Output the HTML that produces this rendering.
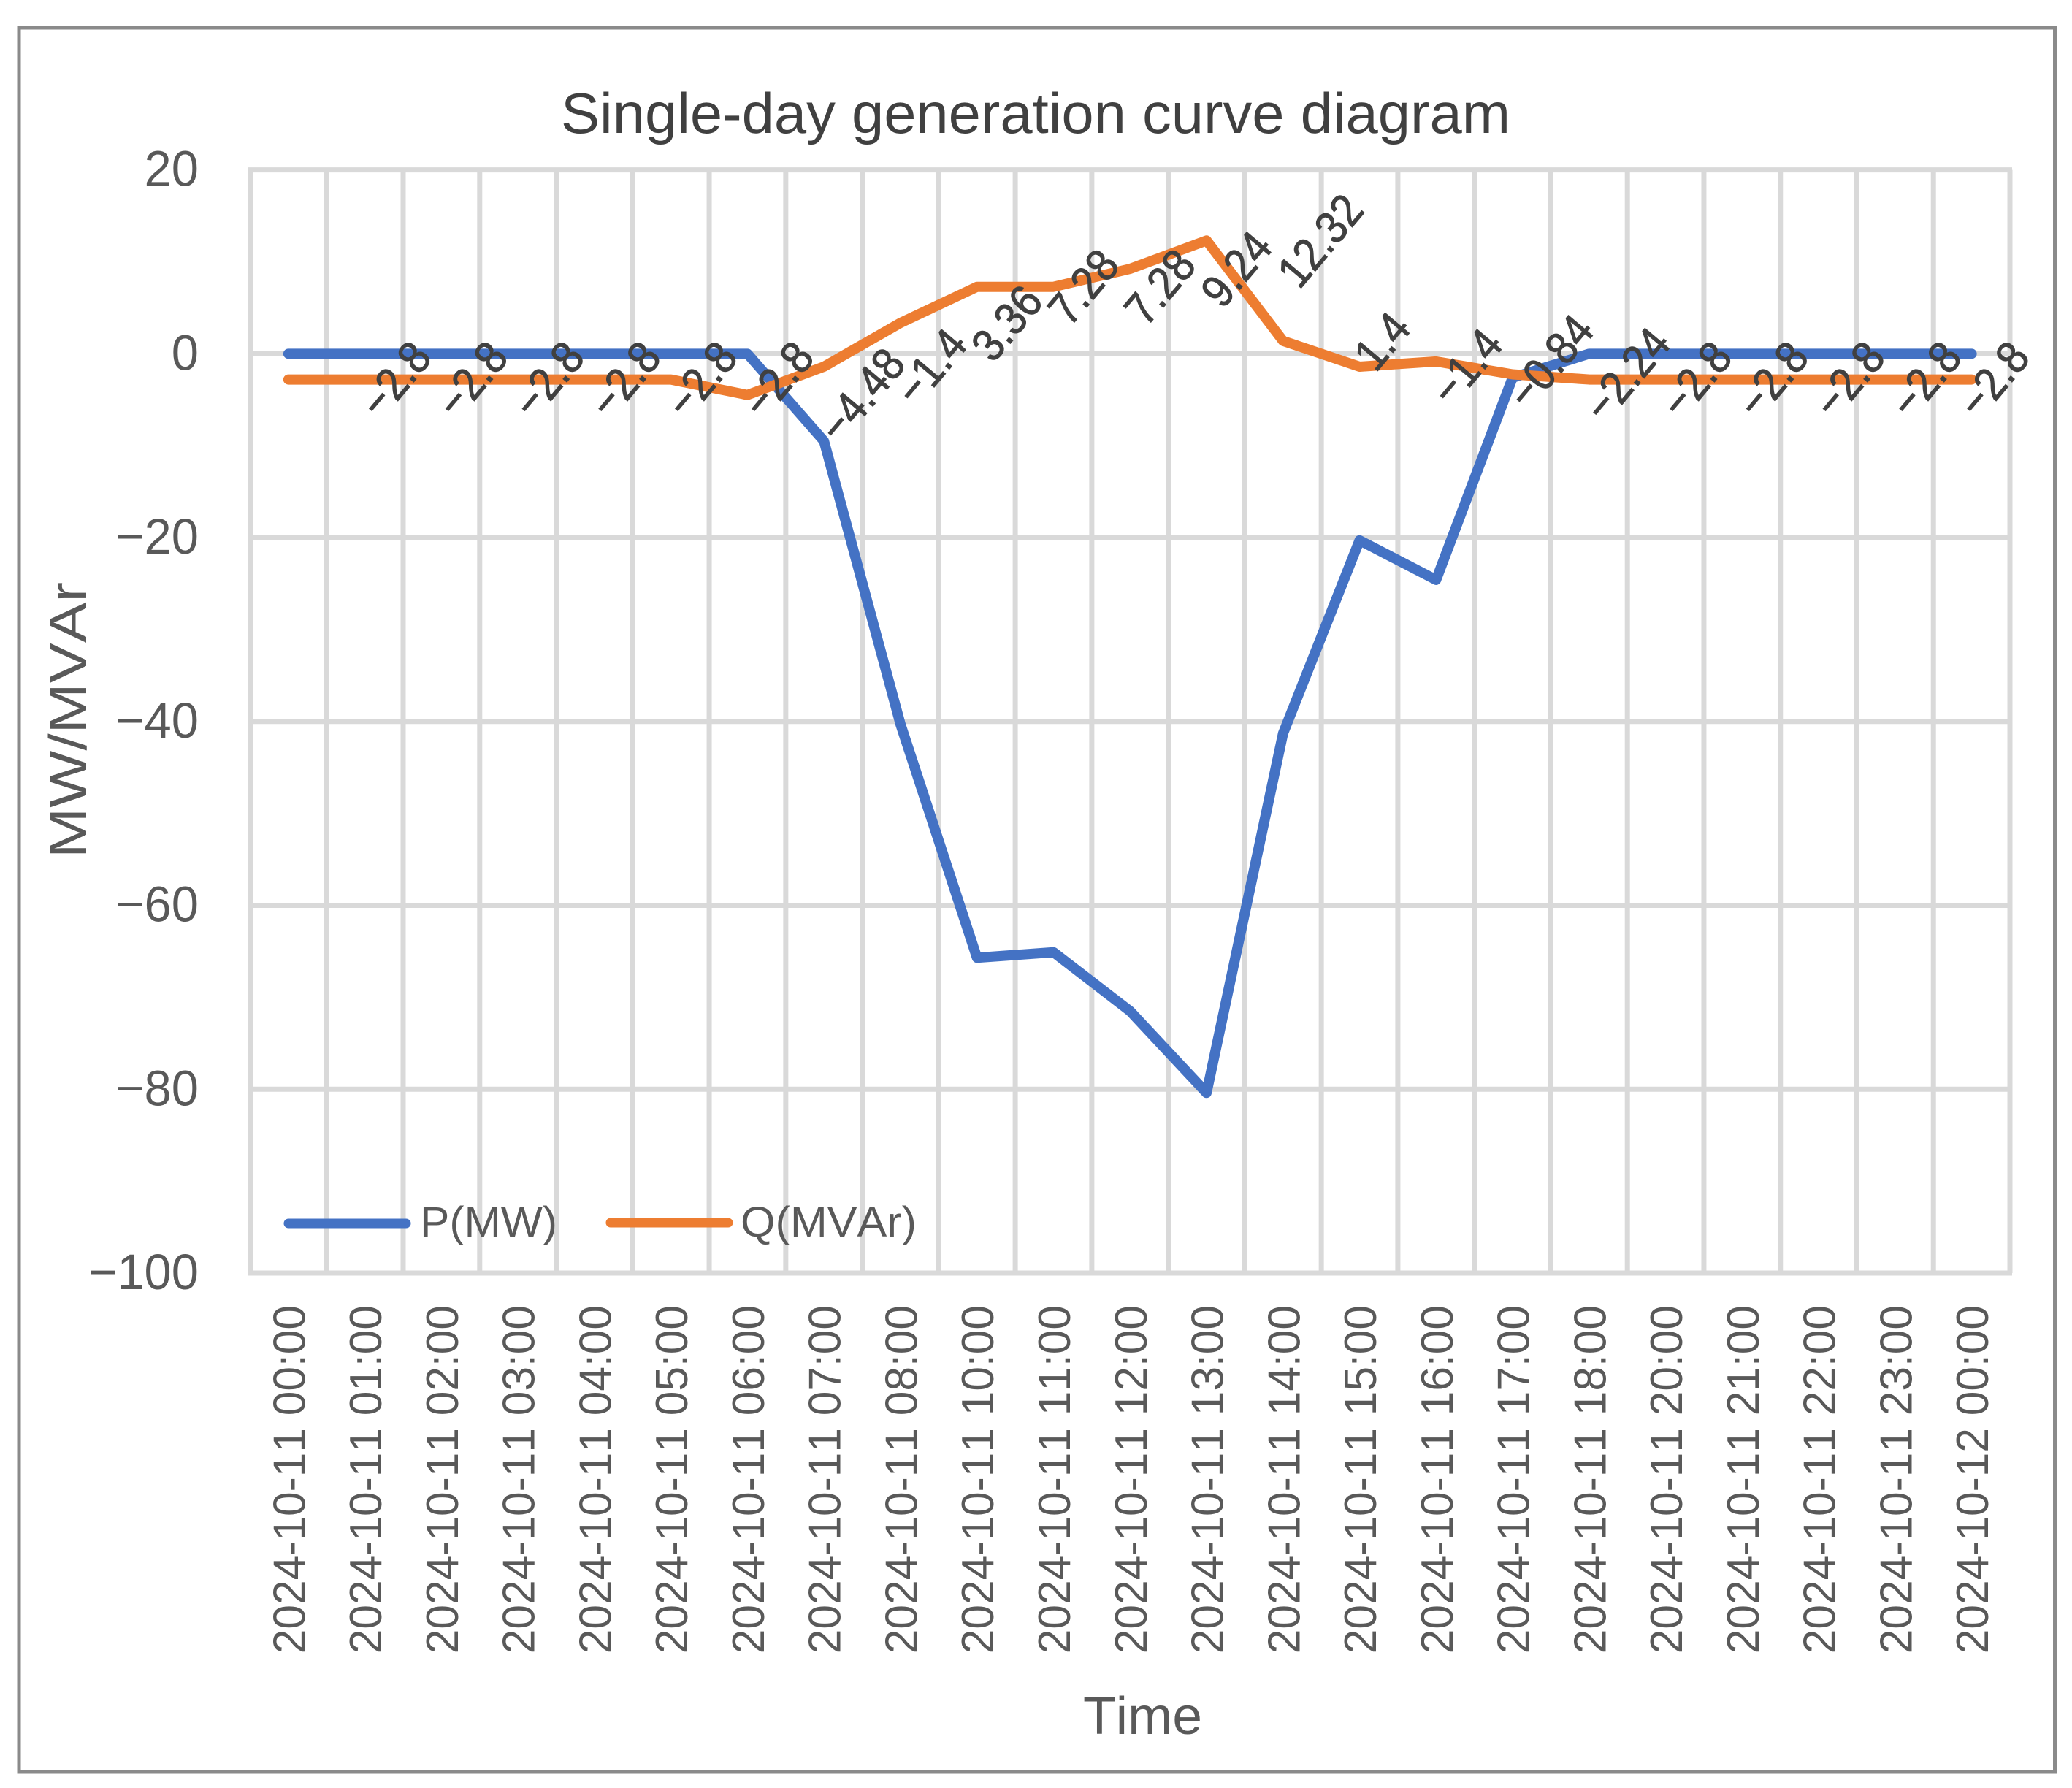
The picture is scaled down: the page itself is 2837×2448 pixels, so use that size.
<!DOCTYPE html>
<html lang="en">
<head>
<meta charset="utf-8">
<title>Single-day generation curve diagram</title>
<style>
html,body{margin:0;padding:0;background:#fff;}
svg{display:block;font-family:"Liberation Sans",sans-serif;font-kerning:none;}
</style>
</head>
<body>
<svg id="chart" xmlns="http://www.w3.org/2000/svg" width="2837" height="2448" viewBox="0 0 2837 2448">
  <rect x="0" y="0" width="2837" height="2448" fill="#ffffff"/>
  <rect x="26" y="38" width="2787.5" height="2388" fill="#ffffff" stroke="#8a8a8a" stroke-width="5"/>
  <g id="grid"></g>
  <g id="series"></g>
  <g id="ylabels"></g>
  <g id="xlabels"></g>
  <g id="dlabels"></g>
  <text x="768" y="182" font-size="78" fill="#404040" textLength="1300" lengthAdjust="spacingAndGlyphs">Single-day generation curve diagram</text>
  <text transform="translate(118,1175) rotate(-90)" font-size="72" fill="#595959" textLength="378" lengthAdjust="spacingAndGlyphs">MW/MVAr</text>
  <text x="1483" y="2374" font-size="72" fill="#595959" textLength="163" lengthAdjust="spacingAndGlyphs">Time</text>
  <g>
    <line x1="395" y1="1675" x2="556" y2="1675" stroke="#4472C4" stroke-width="13" stroke-linecap="round"/>
    <text x="575" y="1693" font-size="58" fill="#595959" textLength="188" lengthAdjust="spacingAndGlyphs">P(MW)</text>
    <line x1="836" y1="1674" x2="997" y2="1674" stroke="#ED7D31" stroke-width="13" stroke-linecap="round"/>
    <text x="1014" y="1693" font-size="58" fill="#595959" textLength="241" lengthAdjust="spacingAndGlyphs">Q(MVAr)</text>
  </g>
</svg>
<script>
var categories = ["2024-10-11 00:00","2024-10-11 01:00","2024-10-11 02:00","2024-10-11 03:00","2024-10-11 04:00","2024-10-11 05:00","2024-10-11 06:00","2024-10-11 07:00","2024-10-11 08:00","2024-10-11 10:00","2024-10-11 11:00","2024-10-11 12:00","2024-10-11 13:00","2024-10-11 14:00","2024-10-11 15:00","2024-10-11 16:00","2024-10-11 17:00","2024-10-11 18:00","2024-10-11 20:00","2024-10-11 21:00","2024-10-11 22:00","2024-10-11 23:00","2024-10-12 00:00"];
var pValues = [0,0,0,0,0,0,0,-9.5,-40.3,-65.7,-65.1,-71.5,-80.4,-41.3,-20.3,-24.6,-2.6,0,0,0,0,0,0];
var qValues = [-2.8,-2.8,-2.8,-2.8,-2.8,-2.8,-4.48,-1.4,3.36,7.28,7.28,9.24,12.32,1.4,-1.4,-0.84,-2.24,-2.8,-2.8,-2.8,-2.8,-2.8,-2.8];
var qLabels = ["-2.8","-2.8","-2.8","-2.8","-2.8","-2.8","-4.48","-1.4","3.36","7.28","7.28","9.24","12.32","1.4","-1.4","-0.84","-2.24","-2.8","-2.8","-2.8","-2.8","-2.8"];
var yTicks = [20,0,-20,-40,-60,-80,-100];

var NS = "http://www.w3.org/2000/svg";
var plotLeft = 342.5, plotRight = 2752, plotTop = 232.6, plotBottom = 1743;
var yMax = 20, yMin = -100;
var labelMaxX = 2729;
var band = (plotRight - plotLeft) / categories.length;

function xScale(i) { return plotLeft + band * (i + 0.5); }
function yScale(v) { return plotTop + (yMax - v) / (yMax - yMin) * (plotBottom - plotTop); }
function minus(s) { return String(s).replace("-", "\u2212"); }

function makeEl(tag, attrs, parent) {
  var el = document.createElementNS(NS, tag);
  for (var k in attrs) { el.setAttribute(k, attrs[k]); }
  parent.appendChild(el);
  return el;
}

var grid = document.getElementById("grid");
var i, el;
for (i = 0; i <= categories.length; i++) {
  var gx = plotLeft + band * i;
  el = makeEl("line", {x1: gx, x2: gx, y1: plotTop, y2: plotBottom, stroke: "#d9d9d9", "stroke-width": 7}, grid);
  
  
}
yTicks.forEach(function (t) {
  var line = makeEl("line", {x1: plotLeft - 3, x2: plotRight + 3, y1: yScale(t), y2: yScale(t), stroke: "#d9d9d9", "stroke-width": 7}, grid);
  
  
});

var ylabels = document.getElementById("ylabels");
yTicks.forEach(function (t) {
  var label = makeEl("text", {transform: "translate(272," + (yScale(t) + 22) + ") scale(0.97,1)", "font-size": 69, fill: "#595959", "text-anchor": "end"}, ylabels);
  label.textContent = minus(t);
  
  
});

var xlabels = document.getElementById("xlabels");
categories.forEach(function (c, idx) {
  var label = makeEl("text", {transform: "translate(" + (xScale(idx) + 22.5) + ",1787) rotate(-90) scale(0.975,1)", "font-size": 62, fill: "#595959", "text-anchor": "end"}, xlabels);
  label.textContent = c;
  
  
});

function linePoints(vals) {
  return vals.map(function (v, idx) { return xScale(idx) + "," + yScale(v); }).join(" ");
}
var series = document.getElementById("series");
var pLine = makeEl("polyline", {points: linePoints(pValues), fill: "none", stroke: "#4472C4", "stroke-width": 14, "stroke-linejoin": "round", "stroke-linecap": "round"}, series);


var qLine = makeEl("polyline", {points: linePoints(qValues), fill: "none", stroke: "#ED7D31", "stroke-width": 14, "stroke-linejoin": "round", "stroke-linecap": "round"}, series);



var dlabels = document.getElementById("dlabels");
qLabels.forEach(function (s, idx) {
  var label = makeEl("text", {"font-size": 63, fill: "#404040", stroke: "#404040", "stroke-width": 1, "text-anchor": "middle", dy: "0.35em"}, dlabels);
  label.textContent = minus(s);
  
  
  var len = label.getComputedTextLength() * 0.9;
  var cx = Math.min(xScale(idx) + 110 + len * 0.32, labelMaxX);
  var cy = yScale(qValues[idx]);
  label.setAttribute("transform", "translate(" + cx + "," + cy + ") rotate(-50) scale(0.9,1)");
});
</script>
</body>
</html>
